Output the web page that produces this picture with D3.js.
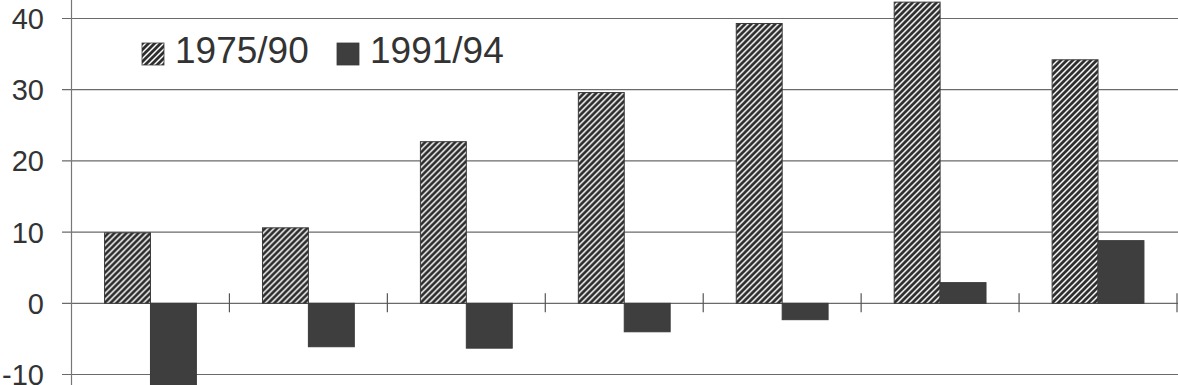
<!DOCTYPE html>
<html>
<head>
<meta charset="utf-8">
<script src="https://cdn.jsdelivr.net/npm/d3@7"></script>
<style>
  body { margin: 0; background: #fff; }
  svg { display: block; font-family: "Liberation Sans", Arial, sans-serif; }
</style>
</head>
<body>
<div id="chart"></div>
<script>
const categories = ["1", "2", "3", "4", "5", "6", "7"];
const series = ["1975/90", "1991/94"];
const values7590 = [9.9, 10.6, 22.7, 29.6, 39.3, 42.3, 34.2];
const values9194 = [-12.5, -6.1, -6.3, -4.0, -2.3, 2.9, 8.8];
const yTicks = [-10, 0, 10, 20, 30, 40];

const width = 1178;
const height = 385;

const svg = d3.select("#chart")
  .append("svg")
  .attr("width", width)
  .attr("height", height)
  .attr("viewBox", [0, 0, width, height]);

// hatch pattern for the 1975/90 bars
const pat = svg.append("defs")
  .append("pattern")
  .attr("id", "hatch")
  .attr("patternUnits", "userSpaceOnUse")
  .attr("width", 6)
  .attr("height", 6);
pat.append("rect").attr("width", 6).attr("height", 6).attr("fill", "#fff");
pat.append("path")
  .attr("d", "M-1,1 l2,-2 M0,6 l6,-6 M5,7 l2,-2")
  .attr("stroke", "#2e2e2e")
  .attr("stroke-width", 2.8);

const x0 = d3.scaleBand()
  .domain(categories)
  .range([71.5, 1177]);

const x1 = d3.scaleBand()
  .domain(series)
  .range([0, x0.bandwidth()])
  .paddingOuter(0.72);

const y = d3.scaleLinear()
  .domain([-10, 40])
  .range([374.5, 18.5]);

// gridlines + y labels
svg.append("g")
  .selectAll("line")
  .data(yTicks)
  .join("line")
  .attr("x1", 62)
  .attr("x2", width)
  .attr("y1", d => y(d))
  .attr("y2", d => y(d))
  .attr("stroke", "#6a6a6a")
  .attr("stroke-width", 1.2);

svg.append("g")
  .selectAll("text")
  .data(yTicks)
  .join("text")
  .attr("x", 44)
  .attr("y", d => y(d))
  .attr("dy", "0.36em")
  .attr("text-anchor", "end")
  .attr("fill", "#333")
  .attr("font-size", "29px")
  .text(d => d);

// y axis line
svg.append("line")
  .attr("x1", 71.5).attr("x2", 71.5)
  .attr("y1", 0).attr("y2", height)
  .attr("stroke", "#777")
  .attr("stroke-width", 1.2);

// bars
const groups = svg.append("g")
  .selectAll("g")
  .data(categories)
  .join("g")
  .attr("transform", d => `translate(${x0(d)},0)`);

groups.append("rect")
  .attr("x", x1(series[0]))
  .attr("width", x1.bandwidth())
  .attr("y", (d, i) => y(Math.max(0, values7590[i])))
  .attr("height", (d, i) => Math.abs(y(values7590[i]) - y(0)))
  .attr("fill", "url(#hatch)")
  .attr("stroke", "#3a3a3a")
  .attr("stroke-width", 1);

groups.append("rect")
  .attr("x", x1(series[1]))
  .attr("width", x1.bandwidth())
  .attr("y", (d, i) => y(Math.max(0, values9194[i])))
  .attr("height", (d, i) => Math.abs(y(values9194[i]) - y(0)))
  .attr("fill", "#3e3e3e")
  .attr("stroke", "#3a3a3a")
  .attr("stroke-width", 1);

// category ticks on the zero line
const tickXs = categories.slice(1).map(c => x0(c)).concat([x0.range()[1]]);
svg.append("g")
  .selectAll("line")
  .data(tickXs)
  .join("line")
  .attr("x1", d => d)
  .attr("x2", d => d)
  .attr("y1", y(0) - 10)
  .attr("y2", y(0) + 9)
  .attr("stroke", "#555")
  .attr("stroke-width", 1.2);

// legend
const legend = svg.append("g");
const legendX = [142, 337];
legend.selectAll("rect")
  .data(series)
  .join("rect")
  .attr("x", (d, i) => legendX[i])
  .attr("y", 43)
  .attr("width", 22)
  .attr("height", 22)
  .attr("fill", (d, i) => i === 0 ? "url(#hatch)" : "#3e3e3e")
  .attr("stroke", "#3a3a3a")
  .attr("stroke-width", 0.8);

legend.selectAll("text")
  .data(series)
  .join("text")
  .attr("x", (d, i) => legendX[i] + 33)
  .attr("y", 63)
  .attr("font-size", "37px")
  .attr("fill", "#333")
  .text(d => d);
</script>
</body>
</html>
